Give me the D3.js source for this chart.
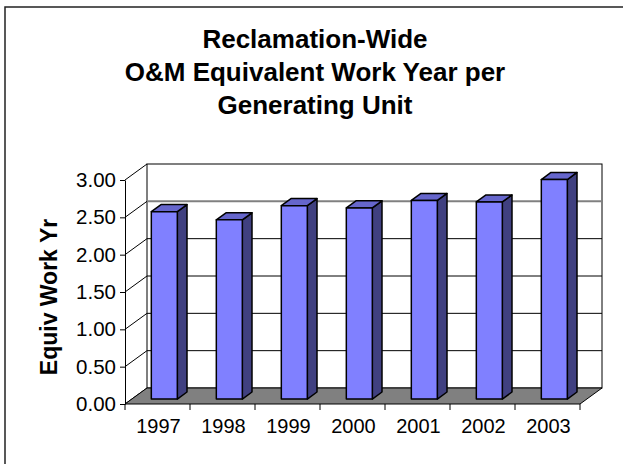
<!DOCTYPE html>
<html>
<head>
<meta charset="utf-8">
<script src="https://cdn.jsdelivr.net/npm/d3@7"></script>
<style>
  html, body { margin: 0; padding: 0; background: #fff; }
  svg { display: block; font-family: "Liberation Sans", Arial, sans-serif; }
</style>
</head>
<body>
<svg id="chart" width="623" height="464"></svg>
<script>
// ---- data ----
const years = ["1997", "1998", "1999", "2000", "2001", "2002", "2003"];
const values = [2.51, 2.40, 2.59, 2.56, 2.66, 2.64, 2.94];
const yTicks = [0, 0.5, 1.0, 1.5, 2.0, 2.5, 3.0];
const titleLines = ["Reclamation-Wide", "O&M Equivalent Work Year per", "Generating Unit"];
const yLabel = "Equiv Work Yr";

// ---- layout ----
const svg = d3.select("#chart");
const depth = { dx: 22, dy: -16 };   // 3D depth vector of the plot box
const barFront = 0.31, barBack = 0.75; // fractions of depth occupied by bars

const x = d3.scaleBand().domain(years).range([125, 580]).paddingInner(0).paddingOuter(0);
const y = d3.scaleLinear().domain([0, 3]).range([404, 180]);
const barW = x.bandwidth() * 0.4;

// outer frame
svg.append("rect").attr("x", 5).attr("y", 7).attr("width", 640).attr("height", 480)
  .attr("fill", "#fff").attr("stroke", "#222").attr("stroke-width", 1.5);

// title
svg.append("g").selectAll("text").data(titleLines).join("text")
  .attr("x", 315).attr("y", (d, i) => 48 + i * 33)
  .attr("text-anchor", "middle").attr("font-size", 26).attr("font-weight", "bold")
  .attr("fill", "#000").text(d => d);

const bx0 = x.range()[0], bx1 = x.range()[1];
const P = (px, py, t) => [px + depth.dx * t, py + depth.dy * t];

// back wall
svg.append("rect")
  .attr("x", bx0 + depth.dx).attr("y", y(3) + depth.dy)
  .attr("width", bx1 - bx0).attr("height", y(0) - y(3))
  .attr("fill", "#fff").attr("stroke", "#000").attr("stroke-width", 1);

// back wall gridlines
svg.append("g").selectAll("line").data(yTicks.filter(d => d > 0 && d < 3)).join("line")
  .attr("x1", bx0 + depth.dx).attr("x2", bx1 + depth.dx)
  .attr("y1", d => y(d) + depth.dy).attr("y2", d => y(d) + depth.dy)
  .attr("stroke", d => d === 2.5 ? "#808080" : "#000")
  .attr("stroke-width", d => d === 2.5 ? 2 : 1);

// side wall gridlines (diagonals)
svg.append("g").selectAll("line").data(yTicks).join("line")
  .attr("x1", bx0).attr("x2", bx0 + depth.dx)
  .attr("y1", d => y(d)).attr("y2", d => y(d) + depth.dy)
  .attr("stroke", "#000").attr("stroke-width", 1);

// floor
const floorPts = [[bx0, y(0)], [bx1, y(0)], [bx1 + depth.dx, y(0) + depth.dy], [bx0 + depth.dx, y(0) + depth.dy]];
svg.append("polygon").attr("points", floorPts.map(p => p.join(",")).join(" "))
  .attr("fill", "#808080").attr("stroke", "#000").attr("stroke-width", 1);

// y axis
const yAxis = svg.append("g").attr("transform", `translate(${bx0},0)`)
  .call(d3.axisLeft(y).tickValues(yTicks).tickFormat(d3.format(".2f")).tickSize(5).tickSizeOuter(0).tickPadding(4));
yAxis.select(".domain").attr("stroke", "#000");
yAxis.selectAll("line").attr("stroke", "#000");
yAxis.selectAll("text").attr("font-size", 20.5).attr("fill", "#000")
  .attr("font-family", "'Liberation Sans', Arial, sans-serif");

// x axis: boundary ticks and centred labels
const bounds = years.map(d => x(d)).concat([bx1]);
svg.append("g").selectAll("line").data(bounds).join("line")
  .attr("x1", d => d).attr("x2", d => d).attr("y1", y(0)).attr("y2", y(0) + 6)
  .attr("stroke", "#000");
svg.append("g").selectAll("text").data(years).join("text")
  .attr("x", d => x(d) + x.bandwidth() / 2 + 1).attr("y", 433)
  .attr("text-anchor", "middle").attr("font-size", 20).attr("fill", "#000").text(d => d);

// y label
svg.append("text").attr("transform", "translate(57,297) rotate(-90)")
  .attr("text-anchor", "middle").attr("font-size", 23).attr("font-weight", "bold")
  .attr("fill", "#000").text(yLabel);

// bars
const bars = svg.append("g").selectAll("g").data(years.map((yr, i) => ({ yr, v: values[i] }))).join("g");
bars.each(function (d) {
  const g = d3.select(this);
  const left = x(d.yr) + (x.bandwidth() - barW) / 2;
  const right = left + barW;
  const fb = y(0), ft = y(d.v);
  const pts = {
    fbl: P(left, fb, barFront), fbr: P(right, fb, barFront),
    ftl: P(left, ft, barFront), ftr: P(right, ft, barFront),
    bbr: P(right, fb, barBack), btl: P(left, ft, barBack), btr: P(right, ft, barBack)
  };
  const poly = arr => arr.map(p => p.join(",")).join(" ");
  g.append("polygon").attr("points", poly([pts.fbr, pts.bbr, pts.btr, pts.ftr]))
    .attr("fill", "#404080").attr("stroke", "#000").attr("stroke-width", 1.5).attr("stroke-linejoin", "round");
  g.append("polygon").attr("points", poly([pts.ftl, pts.ftr, pts.btr, pts.btl]))
    .attr("fill", "#6666CC").attr("stroke", "#000").attr("stroke-width", 1.5).attr("stroke-linejoin", "round");
  g.append("polygon").attr("points", poly([pts.fbl, pts.fbr, pts.ftr, pts.ftl]))
    .attr("fill", "#8080FF").attr("stroke", "#000").attr("stroke-width", 1.5).attr("stroke-linejoin", "round");
});
</script>
</body>
</html>
